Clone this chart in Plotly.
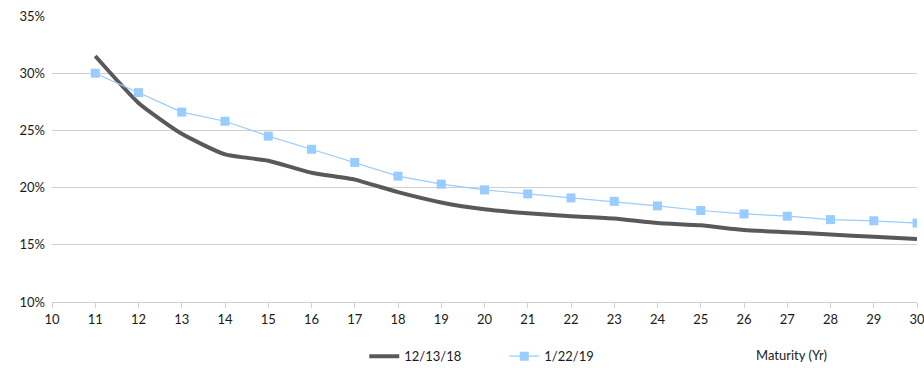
import plotly.graph_objects as go

# Maturity in years
maturity = list(range(11, 31))

# Implied vol curves (%) by maturity
vol_121318 = [31.5, 27.4, 24.7, 22.9, 22.35, 21.3, 20.7, 19.6, 18.7, 18.1,
              17.75, 17.5, 17.3, 16.9, 16.7, 16.3, 16.1, 15.9, 15.7, 15.5]
vol_012219 = [30.0, 28.3, 26.6, 25.8, 24.5, 23.35, 22.2, 21.0, 20.3, 19.8,
              19.45, 19.1, 18.8, 18.4, 18.0, 17.7, 17.5, 17.2, 17.1, 16.9]

x_ticks = list(range(10, 31))
y_ticks = [10, 15, 20, 25, 30, 35]

font_family = "Lato, Open Sans, sans-serif"
text_color = "#1a1a1a"

fig = go.Figure()
fig.add_trace(go.Scatter(
    x=maturity, y=[v / 100 for v in vol_121318], name="12/13/18",
    mode="lines", line=dict(color="#595959", width=4, shape="spline", smoothing=0.5),
))
fig.add_trace(go.Scatter(
    x=maturity, y=[v / 100 for v in vol_012219], name="1/22/19",
    mode="lines+markers", line=dict(color="#99ccff", width=1.2),
    marker=dict(symbol="square", size=9, color="#99ccff"),
))

fig.update_layout(
    width=924, height=368,
    margin=dict(l=52, r=7, t=16, b=66, autoexpand=False),
    paper_bgcolor="white", plot_bgcolor="white",
    font=dict(family=font_family, size=13, color=text_color),
    showlegend=True,
    legend=dict(orientation="h", x=0.361, y=0.032, xref="paper", yref="container",
                xanchor="left", yanchor="middle",
                entrywidth=95, entrywidthmode="pixels",
                font=dict(family=font_family, size=13, color=text_color),
                bgcolor="rgba(0,0,0,0)", traceorder="normal"),
    xaxis=dict(range=[10, 30.0001], tickmode="array", tickvals=x_ticks,
               ticktext=[str(t) for t in x_ticks],
               showgrid=False, zeroline=False, showline=True, linecolor="#d0d0d0",
               linewidth=1, ticks="outside", tickcolor="#d0d0d0", ticklen=5,
               ticklabeloverflow="allow", automargin=False),
    yaxis=dict(range=[0.10, 0.35], tickmode="array", tickvals=[t / 100 for t in y_ticks],
               ticktext=[f"{t}%" for t in y_ticks],
               showgrid=True, gridcolor="#d0d0d0", gridwidth=1,
               zeroline=False, showline=False, ticks="", ticklabelstandoff=6,
               automargin=False),
    annotations=[dict(text="Maturity (Yr)", x=0.812, y=-0.185, xref="paper", yref="paper",
                      xanchor="left", yanchor="middle", showarrow=False,
                      font=dict(family=font_family, size=13, color=text_color))],
)

fig.write_html("out.html")
